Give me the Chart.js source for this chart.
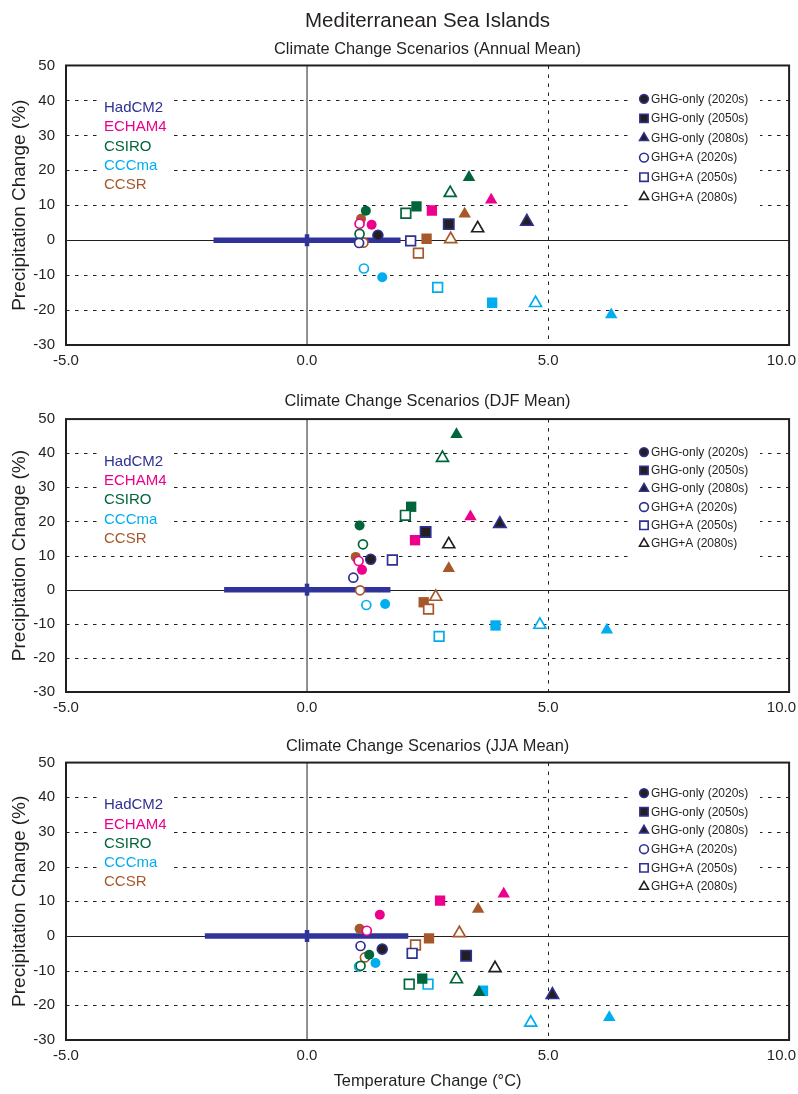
<!DOCTYPE html>
<html>
<head>
<meta charset="utf-8">
<script src="https://cdn.jsdelivr.net/npm/chart.js@4.4.1/dist/chart.umd.min.js"></script>
<style>
html, body { margin: 0; padding: 0; background: #ffffff; width: 798px; height: 1094px; overflow: hidden; }
canvas { position: absolute; left: 0; display: block; }
</style>
</head>
<body>
<canvas id="c0" width="798" height="376" style="top:0px"></canvas>
<canvas id="c1" width="798" height="338" style="top:385px"></canvas>
<canvas id="c2" width="798" height="364" style="top:730px"></canvas>
<script>
// ---------------- text ----------------
const mainTitle = 'Mediterranean Sea Islands';
const panelTitles = [
  'Climate Change Scenarios (Annual Mean)',
  'Climate Change Scenarios (DJF Mean)',
  'Climate Change Scenarios (JJA Mean)'
];
const xAxisTitle = 'Temperature Change (\u00B0C)';
const yAxisTitle = 'Precipitation Change (%)';
const models = ['HadCM2', 'ECHAM4', 'CSIRO', 'CCCma', 'CCSR'];
const scenarios = ['GHG-only (2020s)', 'GHG-only (2050s)', 'GHG-only (2080s)',
                   'GHG+A (2020s)', 'GHG+A (2050s)', 'GHG+A (2080s)'];
const xTickValues = [-5, 0, 5, 10];
const yTickValues = [-30, -20, -10, 0, 10, 20, 30, 40, 50];
const dashedY = [-20, -10, 10, 20, 30, 40];
const dashedX = [5];

// ------------- data (T = temperature change °C, P = precipitation change %) -------------
// order of each array follows `scenarios`; null = no run
// Annual mean
const annualHadCM2T = [1.47, 2.94, 4.56, 1.08, 2.15, 3.54];
const annualHadCM2P = [1.4, 4.6, 5.3, -0.8, -0.2, 3.4];
const annualECHAM4T = [1.34, 2.59, 3.82, 1.09, null, null];
const annualECHAM4P = [4.4, 8.5, 11.5, 4.7, null, null];
const annualCSIROT = [1.22, 2.27, 3.36, 1.09, 2.05, 2.97];
const annualCSIROP = [8.4, 9.7, 18.0, 1.8, 7.7, 13.5];
const annualCCCmaT = [1.56, 3.84, 6.31, 1.18, 2.71, 4.74];
const annualCCCmaP = [-10.6, -17.9, -21.3, -8.1, -13.5, -18.0];
const annualCCSRT = [1.12, 2.48, 3.27, 1.17, 2.31, 2.98];
const annualCCSRP = [6.1, 0.4, 7.5, -0.7, -3.7, 0.3];
// DJF mean
const djfHadCM2T = [1.32, 2.46, 4.00, 0.96, 1.77, 2.94];
const djfHadCM2P = [8.9, 16.9, 19.3, 3.5, 8.7, 13.3];
const djfECHAM4T = [1.14, 2.24, 3.39, 1.07, null, null];
const djfECHAM4P = [5.8, 14.5, 21.4, 8.4, null, null];
const djfCSIROT = [1.09, 2.16, 3.10, 1.16, 2.04, 2.81];
const djfCSIROP = [18.8, 24.3, 45.5, 13.3, 21.8, 38.6];
const djfCCCmaT = [1.62, 3.91, 6.22, 1.23, 2.74, 4.83];
const djfCCCmaP = [-4.2, -10.5, -11.8, -4.5, -13.7, -10.3];
const djfCCSRT = [1.01, 2.42, 2.94, 1.10, 2.52, 2.67];
const djfCCSRP = [9.6, -3.7, 6.2, -0.2, -5.7, -2.1];
// JJA mean
const jjaHadCM2T = [1.56, 3.30, 5.09, 1.11, 2.18, 3.90];
const jjaHadCM2P = [-3.8, -5.7, -17.0, -2.9, -5.0, -9.3];
const jjaECHAM4T = [1.51, 2.76, 4.08, 1.24, null, null];
const jjaECHAM4P = [6.1, 10.2, 12.1, 1.5, null, null];
const jjaCSIROT = [1.29, 2.39, 3.57, 1.11, 2.12, 3.10];
const jjaCSIROP = [-5.4, -12.3, -16.3, -8.6, -13.9, -12.5];
const jjaCCCmaT = [1.42, 3.65, 6.27, 1.08, 2.51, 4.64];
const jjaCCCmaP = [-7.8, -15.8, -23.5, -8.8, -13.9, -25.0];
const jjaCCSRT = [1.09, 2.53, 3.55, 1.20, 2.25, 3.16];
const jjaCCSRP = [2.1, -0.7, 7.7, -6.2, -2.6, 0.8];
// HadCM2 horizontal bar (temperature range at 0 % precipitation change)
const hadBarLow = [-1.94, -1.72, -2.12];
const hadBarHigh = [1.94, 1.73, 2.10];

const panelData = [
  [[annualHadCM2T, annualHadCM2P], [annualECHAM4T, annualECHAM4P], [annualCSIROT, annualCSIROP], [annualCCCmaT, annualCCCmaP], [annualCCSRT, annualCCSRP]],
  [[djfHadCM2T, djfHadCM2P], [djfECHAM4T, djfECHAM4P], [djfCSIROT, djfCSIROP], [djfCCCmaT, djfCCCmaP], [djfCCSRT, djfCCSRP]],
  [[jjaHadCM2T, jjaHadCM2P], [jjaECHAM4T, jjaECHAM4P], [jjaCSIROT, jjaCSIROP], [jjaCCCmaT, jjaCCCmaP], [jjaCCSRT, jjaCCSRP]]
];

// ---------------- styles ----------------
const FONT = "'Liberation Sans', Arial, Helvetica, sans-serif";
const INK = '#231f20';
const NAVY = '#2e3192';
const modelColors = ['#2e3192', '#ec008c', '#00653a', '#00aeef', '#a6582b'];
const scenarioShape = ['circle', 'rect', 'triangle', 'circle', 'rect', 'triangle'];
const scenarioFilled = [true, true, true, false, false, false];
const shapeRadius = { circle: 5, rect: 7.3, triangle: 7.2 };
const openRadius = { circle: 4.5, rect: 6.8, triangle: 6.9 };

Chart.defaults.font.family = FONT;
Chart.defaults.color = INK;

function markerFill(m, s) {
  if (!scenarioFilled[s]) return '#ffffff';
  return m === 0 ? INK : modelColors[m];
}
function markerBorder(m, s) {
  if (m === 0 && s === 5) return INK;
  return modelColors[m];
}
function markerBorderWidth(m, s) {
  if (!scenarioFilled[s]) return 1.7;
  return m === 0 ? 1.6 : 0;
}

function drawMarker(ctx, style, x, y, r, fill, stroke, lw) {
  ctx.save();
  ctx.fillStyle = fill;
  ctx.strokeStyle = stroke;
  ctx.lineWidth = lw;
  ctx.setLineDash([]);
  if (Chart.helpers && Chart.helpers.drawPoint) {
    Chart.helpers.drawPoint(ctx, { pointStyle: style, radius: r, rotation: 0, borderWidth: lw }, x, y);
  } else {
    ctx.beginPath();
    if (style === 'circle') ctx.arc(x, y, r, 0, Math.PI * 2);
    else if (style === 'rect') { const h = r * Math.SQRT1_2; ctx.rect(x - h, y - h, 2 * h, 2 * h); }
    else { ctx.moveTo(x, y - r); ctx.lineTo(x + r * 0.866, y + r / 2); ctx.lineTo(x - r * 0.866, y + r / 2); ctx.closePath(); }
    ctx.fill(); if (lw > 0) ctx.stroke();
  }
  ctx.restore();
}

const panelLayout = [
  { legendOffset: 33.3, legendStep: 19.6, legendBoxBottom: 147 },
  { legendOffset: 33.0, legendStep: 18.3, legendBoxBottom: 145 },
  { legendOffset: 30.5, legendStep: 18.7, legendBoxBottom: 133 }
];

const decoPlugin = {
  id: 'panelDeco',
  beforeDatasetsDraw(chart, args, opts) {
    const { ctx, chartArea } = chart;
    const { left, right, top, bottom } = chartArea;
    const xs = chart.scales.x, ys = chart.scales.y;
    const lay = panelLayout[opts.panel];
    ctx.save();
    ctx.lineWidth = 1;
    ctx.strokeStyle = INK;
    ctx.setLineDash([3.5, 5.5]);
    dashedY.forEach(v => {
      const py = Math.round(ys.getPixelForValue(v)) + 0.5;
      ctx.beginPath(); ctx.moveTo(left, py); ctx.lineTo(right, py); ctx.stroke();
    });
    dashedX.forEach(v => {
      const px = Math.round(xs.getPixelForValue(v)) + 0.5;
      ctx.beginPath(); ctx.moveTo(px, top); ctx.lineTo(px, bottom); ctx.stroke();
    });
    ctx.setLineDash([]);
    // zero lines
    const y0 = Math.round(ys.getPixelForValue(0)) + 0.5;
    ctx.beginPath(); ctx.moveTo(left, y0); ctx.lineTo(right, y0); ctx.stroke();
    ctx.strokeStyle = '#555555';
    ctx.lineWidth = 1.3;
    const x0 = xs.getPixelForValue(0);
    ctx.beginPath(); ctx.moveTo(x0, top); ctx.lineTo(x0, bottom); ctx.stroke();
    // white boxes behind legends
    ctx.fillStyle = '#ffffff';
    ctx.fillRect(97, top + 26, 76, 102);
    ctx.fillRect(632, top + 20, 128, lay.legendBoxBottom - 20);
    // frame
    ctx.strokeStyle = INK;
    ctx.lineWidth = 2;
    ctx.strokeRect(left, top, right - left, bottom - top);
    ctx.restore();
  },
  afterDatasetsDraw(chart, args, opts) {
    const { ctx, chartArea } = chart;
    const { top, bottom } = chartArea;
    const xs = chart.scales.x;
    const lay = panelLayout[opts.panel];
    ctx.save();
    // model legend
    ctx.font = '15px ' + FONT;
    ctx.textAlign = 'left';
    ctx.textBaseline = 'middle';
    models.forEach((m, i) => {
      ctx.fillStyle = modelColors[i];
      ctx.fillText(m, 104, top + 42.5 + i * 19.3);
    });
    // scenario legend
    ctx.font = '12px ' + FONT;
    scenarios.forEach((s, i) => {
      const y = top + lay.legendOffset + i * lay.legendStep;
      const filled = scenarioFilled[i];
      const shape = scenarioShape[i];
      const r = shape === 'circle' ? 4.4 : (shape === 'rect' ? 5.9 : 5.2);
      drawMarker(ctx, shape, 644, y, r, filled ? INK : '#ffffff', (i === 5) ? INK : NAVY, filled ? 1.5 : 1.6);
      ctx.fillStyle = INK;
      ctx.fillText(s, 651, y + 0.5);
    });
    // x tick labels
    ctx.font = '15px ' + FONT;
    ctx.fillStyle = INK;
    ctx.textAlign = 'center';
    xTickValues.forEach(v => {
      const label = v.toFixed(1);
      const w = ctx.measureText(label).width;
      let px = xs.getPixelForValue(v);
      px = Math.min(px, chart.width - w / 2 - 2);
      ctx.fillText(label, px, bottom + 15.5);
    });
    ctx.restore();
  }
};

const canvasSetup = [
  { xHeight: 31, titles: [mainTitle, panelTitles[0]] },
  { xHeight: 31, titles: [panelTitles[1]] },
  { xHeight: 54, titles: [panelTitles[2]] }
];

function buildDatasets(p) {
  const ds = [];
  panelData[p].forEach((pair, m) => {
    const [T, P] = pair;
    const pts = [];
    T.forEach((t, s) => {
      if (t !== null && P[s] !== null) pts.push({ x: t, y: P[s], s: s });
    });
    ds.push({
      label: models[m],
      data: pts,
      order: 1,
      pointStyle: c => c.raw ? scenarioShape[c.raw.s] : 'circle',
      pointRadius: c => {
        if (!c.raw) return 4;
        const sh = scenarioShape[c.raw.s];
        return scenarioFilled[c.raw.s] ? shapeRadius[sh] : openRadius[sh];
      },
      pointBackgroundColor: c => c.raw ? markerFill(m, c.raw.s) : '#fff',
      pointBorderColor: c => c.raw ? markerBorder(m, c.raw.s) : '#000',
      pointBorderWidth: c => c.raw ? markerBorderWidth(m, c.raw.s) : 1,
      showLine: false
    });
  });
  // HadCM2 bar
  ds.push({
    label: 'HadCM2 range',
    data: [{ x: hadBarLow[p], y: 0 }, { x: 0, y: 0 }, { x: hadBarHigh[p], y: 0 }],
    order: 10,
    showLine: true,
    borderColor: '#30339a',
    borderWidth: 5.5,
    borderCapStyle: 'butt',
    pointStyle: 'line',
    pointRotation: 90,
    pointRadius: c => c.dataIndex === 1 ? 6 : 0,
    pointBorderWidth: 4.5,
    pointBorderColor: '#30339a',
    pointBackgroundColor: '#30339a'
  });
  return ds;
}

canvasSetup.forEach((cfg, p) => {
  const plugins = {
    legend: { display: false },
    tooltip: { enabled: false },
    panelDeco: { panel: p }
  };
  if (p === 0) {
    plugins.title = { display: true, text: cfg.titles[0], color: INK, fullSize: false,
      font: { size: 20.5, weight: 'normal', family: FONT }, padding: { top: 9.2, bottom: 0 } };
    plugins.subtitle = { display: true, text: cfg.titles[1], color: INK, fullSize: false,
      font: { size: 16.4, weight: 'normal', family: FONT }, padding: { top: 5.8, bottom: 6.2 } };
  } else {
    plugins.title = { display: true, text: cfg.titles[0], color: INK, fullSize: false,
      font: { size: 16.4, weight: 'normal', family: FONT },
      padding: p === 1 ? { top: 6.2, bottom: 8.2 } : { top: 6.2, bottom: 6.7 } };
  }
  new Chart(document.getElementById('c' + p), {
    type: 'scatter',
    data: { datasets: buildDatasets(p) },
    plugins: [decoPlugin],
    options: {
      responsive: false,
      animation: false,
      events: [],
      layout: { padding: { left: 0, right: 6, top: 0, bottom: 0 } },
      plugins: plugins,
      scales: {
        x: {
          type: 'linear', min: -5, max: 10,
          grid: { display: false, drawTicks: false },
          border: { display: false },
          ticks: { display: false },
          title: p === 2 ? { display: true, text: xAxisTitle, color: INK,
            font: { size: 16.4, family: FONT }, padding: { top: 0, bottom: 2.2 } } : { display: false },
          afterFit: s => { s.height = cfg.xHeight; s.paddingLeft = 0; s.paddingRight = 0; }
        },
        y: {
          type: 'linear', min: -30, max: 50,
          grid: { display: false, drawTicks: false },
          border: { display: false },
          afterBuildTicks: s => { s.ticks = yTickValues.map(v => ({ value: v })); },
          ticks: { font: { size: 15, family: FONT }, color: INK, padding: 11,
            callback: v => String(v) },
          title: { display: true, text: yAxisTitle, color: INK,
            font: { size: 19, family: FONT }, padding: { top: 8.6, bottom: 0 } },
          afterFit: s => { s.width = 66; }
        }
      }
    }
  });
});
</script>
</body>
</html>
